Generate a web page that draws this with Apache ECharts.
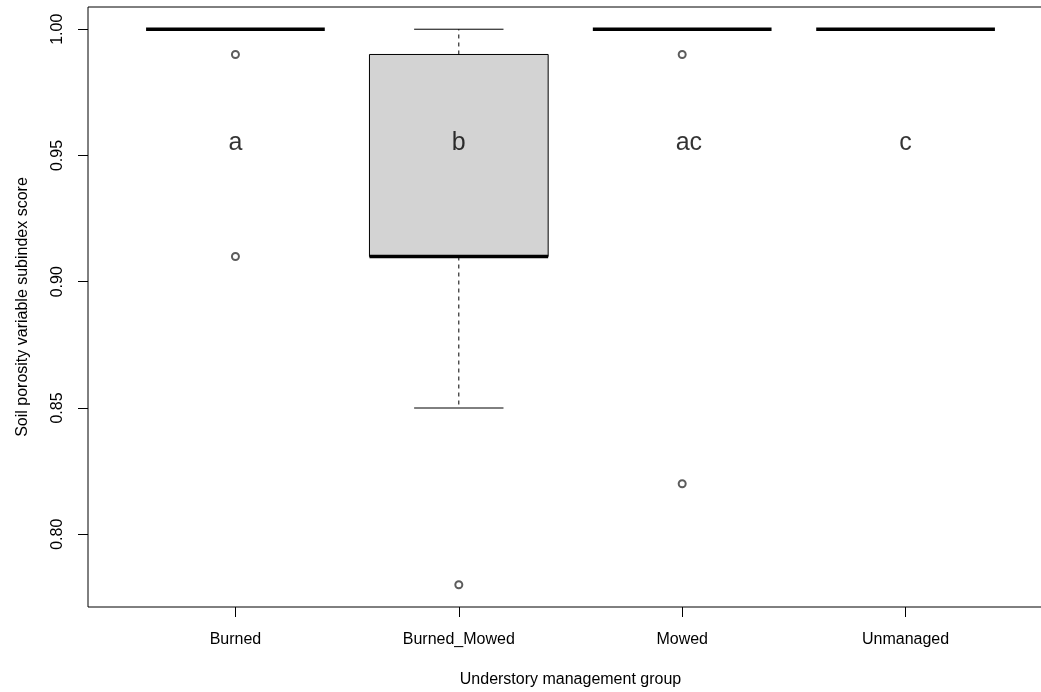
<!DOCTYPE html>
<html><head><meta charset="utf-8">
<script src="https://cdn.jsdelivr.net/npm/echarts@6/dist/echarts.min.js"></script>
<style>html,body{margin:0;padding:0;background:#fff}#c{width:1041px;height:692px}</style>
</head><body><div id="c"></div>
<script>
const categories = ['Burned', 'Burned_Mowed', 'Mowed', 'Unmanaged'];
// [lower whisker, Q1, median, Q3, upper whisker]
const boxStats = [
  [1.00, 1.00, 1.00, 1.00, 1.00],
  [0.85, 0.91, 0.91, 0.99, 1.00],
  [1.00, 1.00, 1.00, 1.00, 1.00],
  [1.00, 1.00, 1.00, 1.00, 1.00]
];
const outlierGroup = [1, 1, 2, 3, 3];
const outlierValue = [0.99, 0.91, 0.78, 0.99, 0.82];
const groupLetters = ['a', 'b', 'ac', 'c'];
const letterX = [1, 2, 3.03, 4];
const letterY = 0.955;
const yTicks = [0.80, 0.85, 0.90, 0.95, 1.00];
const xTicks = [1, 2, 3, 4];

const FONT = 'Liberation Sans, Arial, sans-serif';
const chart = echarts.init(document.getElementById('c'), null, {renderer: 'canvas'});

const boxData = boxStats.map((s, i) => [i + 1].concat(s));
const outlierData = outlierGroup.map((g, i) => [g, outlierValue[i]]);
const letterData = groupLetters.map((l, i) => ({value: [letterX[i], letterY], name: l}));

function renderBox(params, api) {
  const x = api.value(0);
  const lw = api.value(1), q1 = api.value(2), med = api.value(3), q3 = api.value(4), uw = api.value(5);
  const hb = 0.4, hc = 0.2;
  const p = (xx, yy) => api.coord([xx, yy]);
  const ch = [];
  const line = (a, b, style) => ({type: 'line', shape: {x1: a[0], y1: a[1], x2: b[0], y2: b[1]}, style: Object.assign({stroke: '#000', lineWidth: 1}, style || {})});
  ch.push(line(p(x, q3), p(x, uw), {lineDash: [4, 4]}));
  ch.push(line(p(x, q1), p(x, lw), {lineDash: [4, 4]}));
  ch.push(line(p(x - hc, uw), p(x + hc, uw)));
  ch.push(line(p(x - hc, lw), p(x + hc, lw)));
  if (q3 > q1) {
    const tl = p(x - hb, q3), br = p(x + hb, q1);
    ch.push({type: 'rect', shape: {x: tl[0], y: tl[1], width: br[0] - tl[0], height: br[1] - tl[1]},
      style: {fill: '#d3d3d3', stroke: '#000', lineWidth: 1}});
  }
  ch.push(line(p(x - hb, med), p(x + hb, med), {lineWidth: 3.5}));
  return {type: 'group', children: ch};
}

chart.setOption({
  animation: false,
  backgroundColor: '#fff',
  textStyle: {fontFamily: FONT},
  grid: {left: 88, top: 7, width: 965, height: 600, outerBoundsMode: 'none', containLabel: false,
    show: true, borderColor: '#000', borderWidth: 1, backgroundColor: 'transparent'},
  xAxis: {
    type: 'value', min: 0.34, max: 4.66,
    splitLine: {show: false},
    axisLine: {show: false},
    axisTick: {show: true, customValues: xTicks, length: 10, lineStyle: {color: '#000'}},
    axisLabel: {customValues: xTicks, formatter: v => categories[Math.round(v) - 1], color: '#000', fontSize: 16, margin: 25, fontFamily: FONT},
    name: 'Understory management group', nameLocation: 'middle', nameGap: 65,
    nameTextStyle: {color: '#000', fontSize: 16, fontFamily: FONT}
  },
  yAxis: {
    type: 'value', min: 0.7712, max: 1.0088,
    splitLine: {show: false},
    axisLine: {show: false},
    axisTick: {show: true, customValues: yTicks, length: 10, lineStyle: {color: '#000'}},
    axisLabel: {customValues: yTicks, formatter: v => v.toFixed(2), rotate: 90, color: '#000', fontSize: 16, margin: 22, fontFamily: FONT},
    name: 'Soil porosity variable subindex score', nameLocation: 'middle', nameGap: 57, nameRotate: 90,
    nameTextStyle: {color: '#000', fontSize: 16, fontFamily: FONT}
  },
  series: [
    {type: 'custom', renderItem: renderBox, data: boxData, encode: {x: 0, y: [1, 2, 3, 4, 5]}, z: 2, clip: false},
    {type: 'scatter', data: outlierData, symbol: 'emptyCircle', symbolSize: 7,
      itemStyle: {color: '#333', borderColor: '#333', borderWidth: 0.8}, z: 3},
    {type: 'scatter', data: letterData, symbolSize: 0, z: 4,
      label: {show: true, position: 'inside', formatter: p => p.name, color: '#000', fontSize: 25, fontFamily: FONT}}
  ]
});
</script></body></html>
